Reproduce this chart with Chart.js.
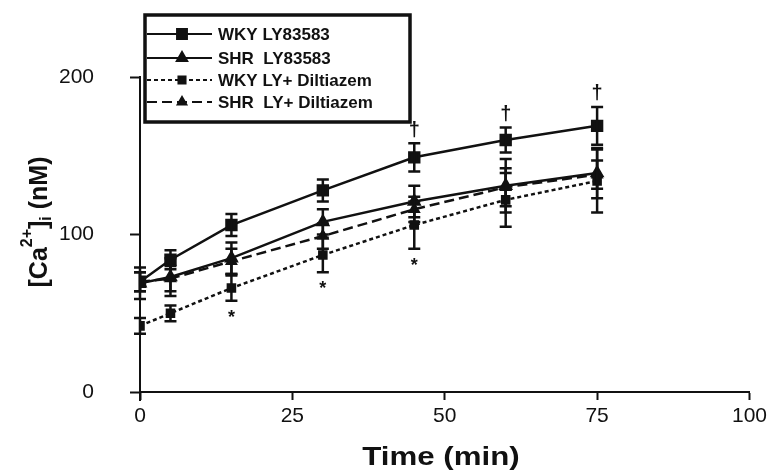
<!DOCTYPE html>
<html>
<head>
<meta charset="utf-8">
<title>Ca2+ time course</title>
<script src="https://cdn.jsdelivr.net/npm/chart.js"></script>
<style>
  html, body { margin: 0; padding: 0; background: #fff; }
  #wrap { width: 771px; height: 475px; }
</style>
</head>
<body>
<div id="wrap"><canvas id="caChart" width="771" height="475"></canvas></div>
<script>
// time points (min)
const times = [0, 5, 15, 30, 45, 60, 75];

const labels = ['WKY LY83583', 'SHR  LY83583', 'WKY LY+ Diltiazem', 'SHR  LY+ Diltiazem'];

// [Ca2+]i (nM), mean and SEM
const wkyLY     = [70, 84, 106, 128, 149, 160, 169];
const wkyLYErr  = [6, 6, 7, 7, 9, 8, 12];
const shrLY     = [69, 73, 85, 108, 121, 131, 139];
const shrLYErr  = [10, 12, 10, 8, 10, 17, 16];
const wkyDil    = [42, 50, 66, 87, 106, 122, 134];
const wkyDilErr = [5, 5, 8, 11, 15, 17, 20];
const shrDil    = [70, 72, 83, 99, 116, 130, 138];
const shrDilErr = [6, 8, 8, 8, 8, 12, 9];

// significance marks
const starTimes = [15, 30, 45];     // * under WKY LY+Diltiazem
const daggerTimes = [45, 60, 75];   // † above WKY LY83583

const xTicks = [0, 25, 50, 75, 100];
const yTicks = [0, 100, 200];

const INK = '#111';
const FONT = '"Liberation Sans", Arial, sans-serif';

function pts(ys) {
    return times.map((t, i) => ({ x: t, y: ys[i] }));
}

const errs = [wkyLYErr, shrLYErr, wkyDilErr, shrDilErr];

const errorBars = {
    id: 'errorBars',
    afterDatasetsDraw(chart) {
        const ctx = chart.ctx;
        const xs = chart.scales.x, ys = chart.scales.y;
        ctx.save();
        ctx.strokeStyle = INK;
        ctx.lineWidth = 2.5;
        ctx.setLineDash([]);
        chart.data.datasets.forEach((ds, i) => {
            ds.data.forEach((p, j) => {
                const e = errs[i][j];
                const x = xs.getPixelForValue(p.x);
                const top = ys.getPixelForValue(p.y + e);
                const bot = ys.getPixelForValue(p.y - e);
                ctx.beginPath();
                ctx.moveTo(x, top); ctx.lineTo(x, bot);
                ctx.moveTo(x - 6, top); ctx.lineTo(x + 6, top);
                ctx.moveTo(x - 6, bot); ctx.lineTo(x + 6, bot);
                ctx.stroke();
            });
        });
        // significance symbols
        ctx.fillStyle = INK;
        ctx.textAlign = 'center';
        ctx.textBaseline = 'middle';
        ctx.font = 'bold 18px ' + FONT;
        starTimes.forEach(t => {
            const j = times.indexOf(t);
            const y = ys.getPixelForValue(wkyDil[j] - wkyDilErr[j]);
            ctx.fillText('*', xs.getPixelForValue(t), y + 17);
        });
        ctx.font = 'bold 20px ' + FONT;
        daggerTimes.forEach(t => {
            const j = times.indexOf(t);
            const y = ys.getPixelForValue(wkyLY[j] + wkyLYErr[j]);
            ctx.fillText('\u2020', xs.getPixelForValue(t), y - 13);
        });
        // y axis runs a little below the x axis
        const a = chart.chartArea;
        ctx.lineWidth = 2;
        ctx.beginPath();
        ctx.moveTo(a.left, a.bottom); ctx.lineTo(a.left, a.bottom + 9);
        ctx.stroke();
        ctx.restore();
    }
};

const boxLegend = {
    id: 'boxLegend',
    afterDraw(chart) {
        const ctx = chart.ctx;
        const left = 145, top = 15, right = 410, bottom = 122;
        const rows = [34, 58, 80, 102];
        ctx.save();
        ctx.fillStyle = '#fff';
        ctx.fillRect(left, top, right - left, bottom - top);
        ctx.strokeStyle = INK;
        ctx.lineWidth = 3.5;
        ctx.strokeRect(left, top, right - left, bottom - top);
        chart.data.datasets.forEach((ds, i) => {
            const y = rows[i];
            ctx.strokeStyle = INK;
            ctx.lineWidth = 2;
            ctx.setLineDash(ds.borderDash || []);
            ctx.beginPath();
            ctx.moveTo(left + 2, y); ctx.lineTo(212, y);
            ctx.stroke();
            ctx.setLineDash([]);
            ctx.fillStyle = INK;
            Chart.helpers.drawPoint(ctx, {
                pointStyle: ds.pointStyle,
                radius: ds.pointRadius,
                rotation: 0,
                borderWidth: 1
            }, 182, y);
            ctx.font = 'bold 17px ' + FONT;
            ctx.textAlign = 'left';
            ctx.textBaseline = 'middle';
            ctx.fillText(ds.label, 218, y + 1);
        });
        ctx.restore();
    }
};

const axisTitles = {
    id: 'axisTitles',
    afterDraw(chart) {
        const ctx = chart.ctx;
        ctx.save();
        ctx.fillStyle = INK;
        // x title, a bit wide as in the scan
        ctx.save();
        ctx.font = 'bold 25px ' + FONT;
        ctx.textAlign = 'center';
        ctx.textBaseline = 'middle';
        ctx.translate(441, 458);
        ctx.scale(1.25, 1);
        ctx.fillText('Time (min)', 0, 0);
        ctx.restore();
        // y title with super/subscript
        ctx.translate(38, 222);
        ctx.rotate(-Math.PI / 2);
        const big = 'bold 25px ' + FONT, small = 'bold 16px ' + FONT;
        const parts = [
            { t: '[Ca', f: big, dy: 0 },
            { t: '2+', f: small, dy: -12 },
            { t: ']', f: big, dy: 0 },
            { t: 'i', f: small, dy: 7 },
            { t: ' (nM)', f: big, dy: 0 }
        ];
        let w = 0;
        parts.forEach(p => { ctx.font = p.f; p.w = ctx.measureText(p.t).width; w += p.w; });
        let x = -w / 2;
        ctx.textAlign = 'left';
        ctx.textBaseline = 'middle';
        parts.forEach(p => {
            ctx.font = p.f;
            ctx.fillText(p.t, x, p.dy + 2);
            x += p.w;
        });
        ctx.restore();
    }
};

const ctx = document.getElementById('caChart').getContext('2d');

const caChart = new Chart(ctx, {
    type: 'line',
    data: {
        datasets: [{
            label: labels[0],
            data: pts(wkyLY),
            borderColor: INK,
            backgroundColor: INK,
            borderWidth: 2.5,
            pointStyle: 'rect',
            pointRadius: 7,
        }, {
            label: labels[1],
            data: pts(shrLY),
            borderColor: INK,
            backgroundColor: INK,
            borderWidth: 2.5,
            pointStyle: 'triangle',
            pointRadius: 6,
        }, {
            label: labels[2],
            data: pts(wkyDil),
            borderColor: INK,
            backgroundColor: INK,
            borderWidth: 2.5,
            borderDash: [4, 3],
            pointStyle: 'rect',
            pointRadius: 5,
        }, {
            label: labels[3],
            data: pts(shrDil),
            borderColor: INK,
            backgroundColor: INK,
            borderWidth: 2.5,
            borderDash: [10, 5],
            pointStyle: 'triangle',
            pointRadius: 5,
        }]
    },
    options: {
        responsive: false,
        animation: false,
        layout: { padding: { top: 77, right: 15, left: 0, bottom: 0 } },
        plugins: {
            legend: { display: false },
            tooltip: { enabled: false },
        },
        elements: { line: { tension: 0 } },
        scales: {
            x: {
                type: 'linear',
                min: 0,
                max: 100,
                afterBuildTicks: s => { s.ticks = xTicks.map(v => ({ value: v })); },
                afterFit: s => { s.height = 83; },
                ticks: { color: INK, font: { size: 21, family: FONT }, padding: 4, maxRotation: 0 },
                grid: { drawOnChartArea: false, tickLength: 8, tickColor: INK, tickWidth: 2 },
                border: { color: INK, width: 2 },
            },
            y: {
                min: 0,
                max: 200,
                afterBuildTicks: s => { s.ticks = yTicks.map(v => ({ value: v })); },
                afterFit: s => { s.width = 140; },
                ticks: { color: INK, font: { size: 21, family: FONT }, padding: 36 },
                grid: { drawOnChartArea: false, tickLength: 10, tickColor: INK, tickWidth: 2 },
                border: { color: INK, width: 2 },
            }
        }
    },
    plugins: [errorBars, boxLegend, axisTitles]
});
</script>
</body>
</html>
